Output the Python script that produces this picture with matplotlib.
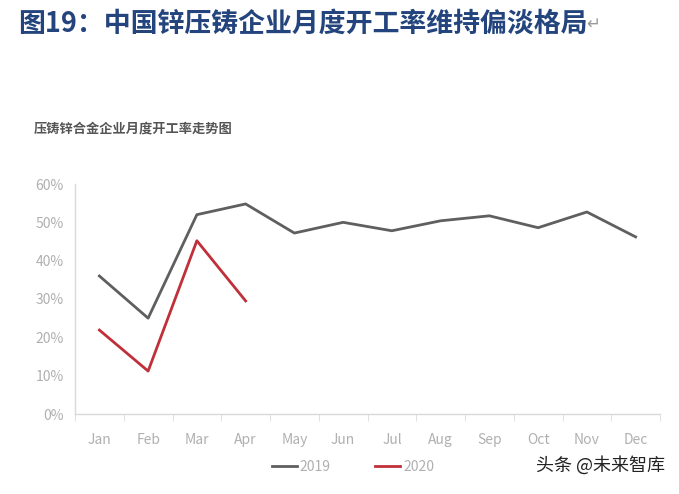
import matplotlib
matplotlib.use("Agg")
import matplotlib.pyplot as plt
from matplotlib.ticker import FuncFormatter

plt.rcParams['font.family'] = ['Noto Sans CJK SC', 'DejaVu Sans']

months = ["Jan", "Feb", "Mar", "Apr", "May", "Jun", "Jul", "Aug", "Sep", "Oct", "Nov", "Dec"]
rate_2019 = [36.0, 25.0, 52.0, 54.8, 47.2, 50.0, 47.8, 50.4, 51.7, 48.6, 52.7, 46.2]
rate_2020 = [21.9, 11.2, 45.2, 29.5]
yticks = [0, 10, 20, 30, 40, 50, 60]

fig = plt.figure(figsize=(6.79, 4.94), dpi=100)
W, H = 679, 494
ax = fig.add_axes([75 / W, 1 - 414 / H, (660 - 75) / W, (414 - 184) / H])

x19 = list(range(len(rate_2019)))
x20 = list(range(len(rate_2020)))
ax.plot(x19, rate_2019, color="#5f5f5f", lw=2.0, label="2019")
ax.plot(x20, rate_2020, color="#c0303a", lw=2.0, label="2020")

ax.set_xlim(-0.5, 11.5)
ax.set_ylim(0, 60)
ax.set_yticks(yticks)
ax.yaxis.set_major_formatter(FuncFormatter(lambda v, p: f"{int(v)}%"))
ax.set_xticks(x19)
ax.set_xticklabels(months)
ax.set_xticks([i + 0.5 for i in range(-1, 12)], minor=True)

for s in ["top", "right"]:
    ax.spines[s].set_visible(False)
for s in ["left", "bottom"]:
    ax.spines[s].set_color("#d9d9d9")
    ax.spines[s].set_linewidth(1.0)
ax.tick_params(axis="x", which="major", length=0, pad=14, labelsize=10, labelcolor="#b0b0b0")
ax.tick_params(axis="x", which="minor", length=5, color="#d9d9d9")
ax.tick_params(axis="y", length=0, pad=8, labelsize=10, labelcolor="#b0b0b0")

fig.text(18 / W, 1 - 24 / H, "图19：中国锌压铸企业月度开工率维持偏淡格局", fontsize=19.4,
         fontweight="bold", color="#23447c", va="center", ha="left")
fig.text(586 / W, 1 - 24 / H, "↵", fontsize=12, color="#999999", va="center", ha="left",
         family=['DejaVu Sans'])
fig.text(34 / W, 1 - 128 / H, "压铸锌合金企业月度开工率走势图", fontsize=9.5,
         fontweight="bold", color="#555555", va="center", ha="left")

leg = ax.legend(loc="upper center", ncol=2, frameon=False,
                fontsize=10, handlelength=1.8, columnspacing=3.2, handletextpad=0.2)
for t in leg.get_texts():
    t.set_color("#b0b0b0")
leg.set_bbox_to_anchor((353 / W, 1 - 447 / H), transform=fig.transFigure)

fig.text(665 / W, 1 - 465 / H, "头条 @未来智库", fontsize=13, color="#222222",
         va="center", ha="right")

fig.savefig("out.png", dpi=100)
